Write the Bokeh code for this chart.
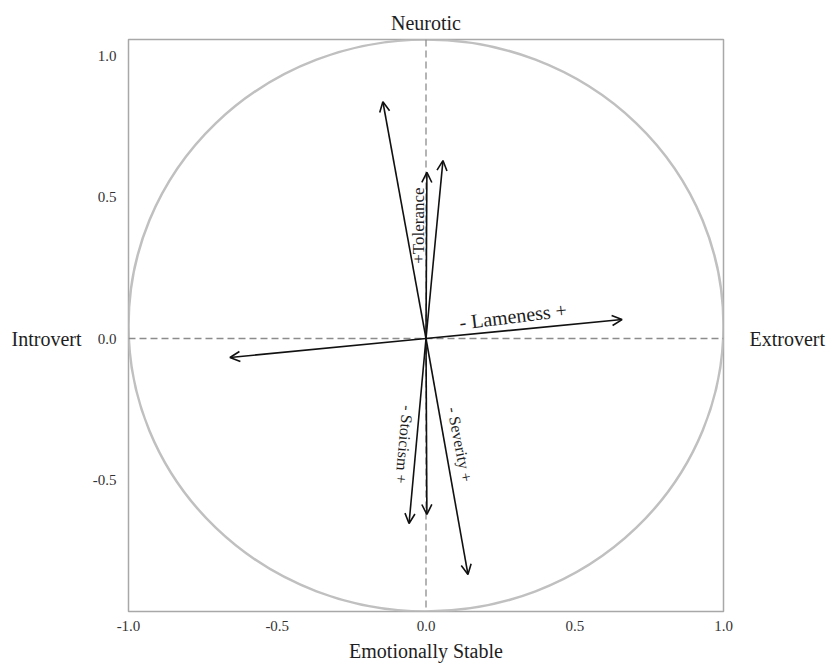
from bokeh.plotting import figure
from bokeh.models import (Range1d, Arrow, OpenHead, Span, Label, ColumnDataSource,
                          FixedTicker, PrintfTickFormatter, LinearAxis)
from bokeh.embed import file_html
from bokeh.resources import INLINE

# ---- data (loadings) ----
arrow_names = ["Severity -", "Tolerance +", "Stoicism -", "Lameness +",
               "Lameness -", "Stoicism +", "Tolerance -", "Severity +"]
x_load = [-0.145, 0.003, 0.057, 0.659, -0.659, -0.057, 0.003, 0.141]
y_load = [0.837, 0.587, 0.629, 0.067, -0.067, -0.654, -0.622, -0.834]
tick_values = [-1.0, -0.5, 0.0, 0.5, 1.0]

X_START, X_END = -1.0, 1.0
Y_START, Y_END = -0.965, 1.057

FONT = "Liberation Serif"
TXT = "#1e1e1e"

p = figure(width=828, height=664, output_backend="svg", toolbar_location=None,
           x_range=Range1d(X_START, X_END), y_range=Range1d(Y_START, Y_END),
           title="Neurotic", min_border_left=128, min_border_right=105,
           min_border_top=39, min_border_bottom=53)
p.background_fill_color = "white"
p.border_fill_color = "white"
p.outline_line_color = "#a8a8a8"
p.outline_line_width = 1.5
p.grid.visible = False

p.title.align = "center"
p.title.text_font = FONT
p.title.text_font_size = "20px"
p.title.text_font_style = "normal"
p.title.text_color = TXT
p.title.standoff = 11

def style_axis(ax, size="15px", color="#333333"):
    ax.axis_line_color = None
    ax.major_tick_line_color = None
    ax.minor_tick_line_color = None
    ax.major_label_text_font = FONT
    ax.major_label_text_font_size = size
    ax.major_label_text_color = color

for ax in (p.xaxis[0], p.yaxis[0]):
    ax.ticker = FixedTicker(ticks=tick_values)
    ax.formatter = PrintfTickFormatter(format="%.1f")
    style_axis(ax)
p.xaxis.major_label_standoff = 3
p.yaxis.major_label_standoff = 6

p.xaxis.axis_label = "Emotionally Stable"
p.xaxis.axis_label_text_font = FONT
p.xaxis.axis_label_text_font_size = "20px"
p.xaxis.axis_label_text_font_style = "normal"
p.xaxis.axis_label_text_color = TXT
p.xaxis.axis_label_standoff = 6

# pole names on the left / right, as extra axes with a single tick at 0
left_pole = LinearAxis(ticker=FixedTicker(ticks=[0]), major_label_overrides={0: "Introvert"})
style_axis(left_pole, "20px", TXT)
left_pole.major_label_standoff = 2
p.add_layout(left_pole, "left")

right_pole = LinearAxis(ticker=FixedTicker(ticks=[0]), major_label_overrides={0: "Extrovert"})
style_axis(right_pole, "20px", TXT)
right_pole.major_label_standoff = 20
right_pole.major_label_text_baseline = "bottom"
p.add_layout(right_pole, "right")

# inscribed circle (ellipse filling the frame)
p.ellipse(x=[(X_START + X_END) / 2], y=[(Y_START + Y_END) / 2],
          width=[X_END - X_START], height=[Y_END - Y_START],
          fill_color=None, line_color="#c0c0c0", line_width=2.5)

# dashed axes through origin
for dim in ("height", "width"):
    p.add_layout(Span(location=0, dimension=dim, line_dash="7 4",
                      line_color="#8c8c8c", line_width=1.3))

src = ColumnDataSource(dict(name=arrow_names, x=x_load, y=y_load))
p.add_layout(Arrow(end=OpenHead(size=10, line_width=1.6, line_color="#111111"),
                   x_start=0, y_start=0, x_end="x", y_end="y", source=src,
                   line_width=1.6, line_color="#111111"))

def along(i, t):
    return x_load[i] * t, y_load[i] * t

# arrow labels
specs = [
    ("- Lameness +", 3, 0.444, 0, 14, 7, "20px"),
    ("+Tolerance", 1, 0.68, -8, 0, 90, "17px"),
    ("- Stoicism +", 5, 0.573, -12, 0, -95, "16px"),
    ("- Severity +", 7, 0.449, 15, 0, -79, "16px"),
]
for text, i, t, xo, yo, ang, fs in specs:
    lx, ly = along(i, t)
    p.add_layout(Label(x=lx, y=ly, x_offset=xo, y_offset=yo, text=text,
                       angle=ang, angle_units="deg", text_align="center",
                       text_baseline="middle", text_font=FONT,
                       text_font_size=fs, text_color=TXT))

open("out.html", "w").write(file_html(p, INLINE))
